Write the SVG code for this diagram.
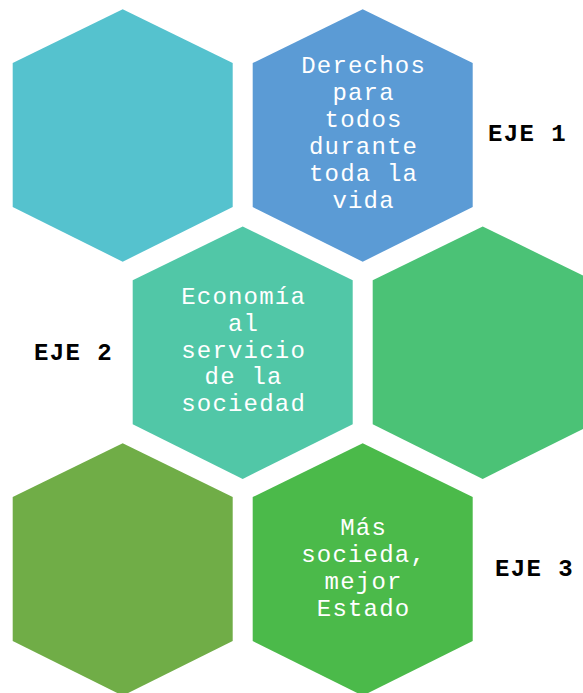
<svg xmlns="http://www.w3.org/2000/svg" xmlns:xlink="http://www.w3.org/1999/xlink" width="583" height="693" viewBox="0 0 583 693">
<style>
.t{font-family:"Liberation Mono","Courier New",monospace;font-size:24px;letter-spacing:1.2px;fill:#FFFFFF;text-anchor:middle}
.lbl{font-family:"Liberation Mono","Courier New",monospace;font-size:24px;letter-spacing:1.4px;font-weight:bold;fill:#000000}
</style>
<defs>
<polygon id="hex" points="0,-126.2 110,-72.4 110,71.6 0,126.2 -110,71.6 -110,-72.4"/>
</defs>
<rect width="583" height="693" fill="#FFFFFF"/>
<g id="hex1"><use xlink:href="#hex" href="#hex" transform="translate(122.7,135.5)" fill="#55C2CE"/></g>
<g id="hex2"><use xlink:href="#hex" href="#hex" transform="translate(362.7,135.5)" fill="#5B9BD5"/>
<text class="t"><tspan x="363.6" y="73">Derechos</tspan><tspan x="363.6" y="100">para</tspan><tspan x="363.6" y="127">todos</tspan><tspan x="363.6" y="154">durante</tspan><tspan x="363.6" y="181">toda la</tspan><tspan x="363.6" y="208">vida</tspan></text></g>
<g id="hex3"><use xlink:href="#hex" href="#hex" transform="translate(242.7,352.7)" fill="#51C7A7"/>
<text class="t"><tspan x="243.6" y="304">Economía</tspan><tspan x="243.6" y="331">al</tspan><tspan x="243.6" y="358">servicio</tspan><tspan x="243.6" y="384">de la</tspan><tspan x="243.6" y="411">sociedad</tspan></text></g>
<g id="hex4"><use xlink:href="#hex" href="#hex" transform="translate(482.7,352.7)" fill="#4BC276"/></g>
<g id="hex5"><use xlink:href="#hex" href="#hex" transform="translate(122.7,569.5)" fill="#70AD47"/></g>
<g id="hex6"><use xlink:href="#hex" href="#hex" transform="translate(362.7,569.5)" fill="#4BBA4A"/>
<text class="t"><tspan x="363.6" y="535">Más</tspan><tspan x="363.6" y="562">socieda,</tspan><tspan x="363.6" y="589">mejor</tspan><tspan x="363.6" y="616">Estado</tspan></text></g>
<g id="eje1"><text class="lbl" x="488" y="141">EJE 1</text></g>
<g id="eje2"><text class="lbl" x="34" y="360">EJE 2</text></g>
<g id="eje3"><text class="lbl" x="495" y="576">EJE 3</text></g>
<g id="connectors"></g>
</svg>
